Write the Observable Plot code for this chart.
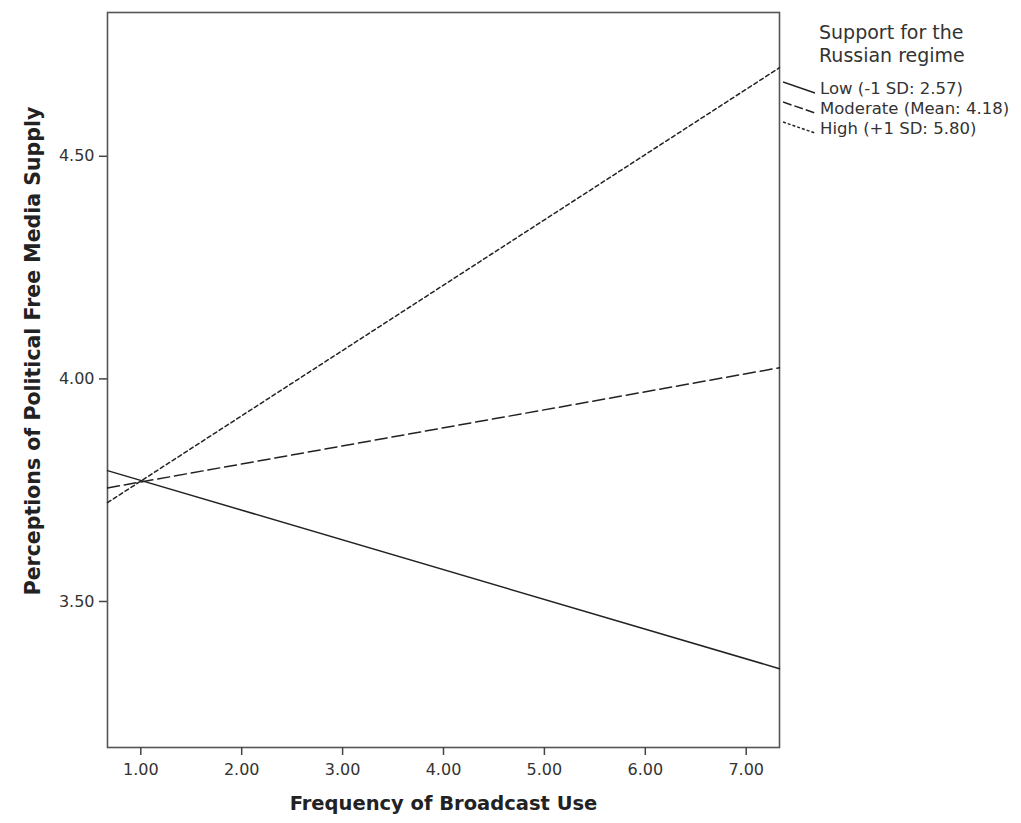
<!DOCTYPE html>
<html>
<head>
<meta charset="utf-8">
<script src="https://cdn.jsdelivr.net/npm/d3@7"></script>
<script src="https://cdn.jsdelivr.net/npm/@observablehq/plot@0.6"></script>
<style>
  html, body { margin: 0; padding: 0; background: #fff; }
  #wrap { position: relative; width: 1021px; height: 823px; font-family: "DejaVu Sans", sans-serif; }
  #legend { position: absolute; left: 783px; top: 21px; color: #333; }
  #legend .title { font-size: 19px; line-height: 22.5px; margin-left: 36px; margin-bottom: 12px; white-space: nowrap; }
  #legend .item { display: flex; align-items: center; height: 20px; font-size: 16.5px; white-space: nowrap; }
  #legend svg { width: 37px; height: 20px; flex: none; }
</style>
</head>
<body>
<div id="wrap"></div>
<script>
// Data
const xValues = [0.67, 7.33];
const lowValues = [3.794, 3.349];
const moderateValues = [3.755, 4.025];
const highValues = [3.722, 4.699];
const seriesNames = ["Low (-1 SD: 2.57)", "Moderate (Mean: 4.18)", "High (+1 SD: 5.80)"];
const xTicks = [1, 2, 3, 4, 5, 6, 7];
const yTicks = [3.5, 4.0, 4.5];
const legendTitle = ["Support for the", "Russian regime"];
const xTitle = "Frequency of Broadcast Use";
const yTitle = "Perceptions of Political Free Media Supply";

const dashes = ["none", "12,5", "4,3"];
const seriesValues = [lowValues, moderateValues, highValues];
const rows = seriesNames.flatMap((s, i) => xValues.map((x, j) => ({series: s, x, y: seriesValues[i][j]})));

const plot = Plot.plot({
  width: 1021,
  height: 823,
  marginLeft: 107,
  marginRight: 242,
  marginTop: 12,
  marginBottom: 76,
  style: {fontFamily: "DejaVu Sans, sans-serif", fontSize: "16px", color: "#333", background: "#fff"},
  x: {domain: [0.67, 7.33]},
  y: {domain: [3.172, 4.823]},
  marks: [
    Plot.frame({stroke: "#555", strokeWidth: 1.6}),
    Plot.axisX({ticks: xTicks, tickFormat: d3.format(".2f"), tickSize: 8, tickPadding: 8, stroke: "#444", strokeWidth: 1.5,
      label: null, fill: "#333"}),
    Plot.axisY({ticks: yTicks, tickFormat: d3.format(".2f"), tickSize: 8, tickPadding: 5, stroke: "#444", strokeWidth: 1.5,
      label: null, fill: "#333"}),
    Plot.text([xTitle], {text: d => d, frameAnchor: "bottom", textAnchor: "middle", dy: 62, fontSize: 19.5, fontWeight: "bold", fill: "#222"}),
    Plot.text([yTitle], {text: d => d, frameAnchor: "left", textAnchor: "middle", dx: -74, dy: -29, rotate: -90, fontSize: 20.5, fontWeight: "bold", fill: "#222"}),
    ...seriesNames.map((s, i) => Plot.line(rows.filter(r => r.series === s), {
      x: "x", y: "y", stroke: "#222", strokeWidth: 1.5, strokeDasharray: dashes[i]
    }))
  ]
});

plot.querySelectorAll("g[aria-label='x-axis tick label'], g[aria-label='y-axis tick label']").forEach(g => {
  g.setAttribute("font-size", "16");
});

const wrap = document.getElementById("wrap");
wrap.appendChild(plot);

// Legend
const legend = document.createElement("div");
legend.id = "legend";
legend.innerHTML = `<div class="title">${legendTitle.map(t => `<div>${t}</div>`).join("")}</div>` +
  seriesNames.map((s, i) => `<div class="item"><svg><line x1="0" y1="4" x2="32" y2="15" stroke="#222" stroke-width="1.5" stroke-dasharray="${dashes[i] === "none" ? "" : (i === 1 ? "9,3" : "3,2")}"/></svg><span>${s}</span></div>`).join("");
wrap.appendChild(legend);
</script>
</body>
</html>
